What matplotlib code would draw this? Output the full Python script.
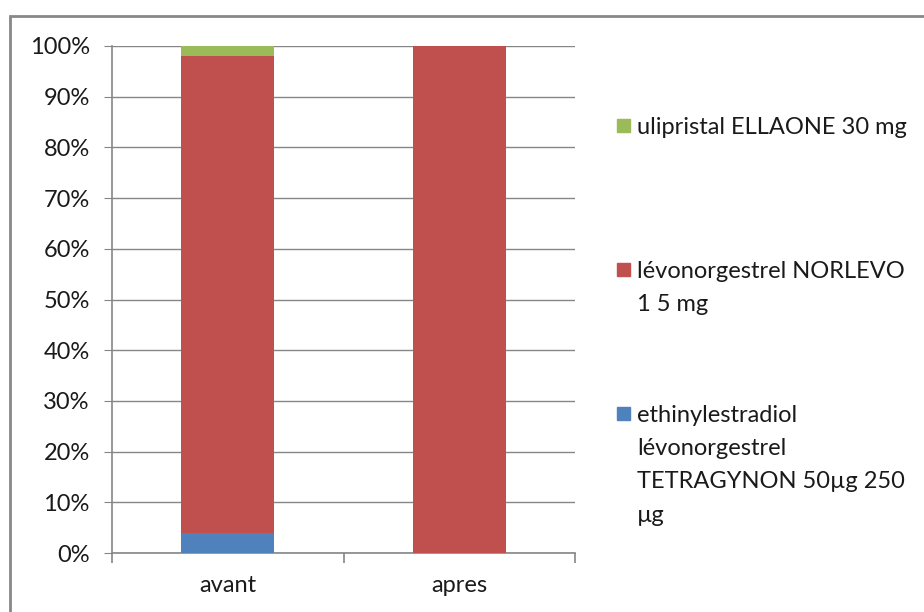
import matplotlib
matplotlib.use("Agg")
import matplotlib.pyplot as plt
from matplotlib.patches import Rectangle
from matplotlib.ticker import PercentFormatter, FixedLocator

categories = ["avant", "apres"]
ethinyl = [4, 0]
norlevo = [94, 100]
ellaone = [2, 0]

labels = [
    "ethinylestradiol\nlévonorgestrel\nTETRAGYNON 50µg 250\nµg",
    "lévonorgestrel NORLEVO\n1 5 mg",
    "ulipristal ELLAONE 30 mg",
]
colors = ["#4F81BD", "#C0504D", "#9BBB59"]

plt.rcParams["font.family"] = ["Lato", "DejaVu Sans"]

fig = plt.figure(figsize=(9.24, 6.12), dpi=100)
ax = fig.add_axes([112 / 924, 1 - 553 / 612, 463 / 924, 507 / 612])

x = range(len(categories))
bottom = [0, 0]
for vals, col in zip([ethinyl, norlevo, ellaone], colors):
    ax.bar(x, vals, width=0.4, bottom=bottom, color=col, zorder=3)
    bottom = [b + v for b, v in zip(bottom, vals)]

ax.set_xlim(-0.5, 1.5)
ax.set_ylim(0, 100)
ax.set_yticks(range(0, 101, 10))
ax.yaxis.set_major_formatter(PercentFormatter(decimals=0))
ax.set_xticks(list(x))
ax.set_xticklabels(categories)
ax.xaxis.set_minor_locator(FixedLocator([-0.5, 0.5, 1.5]))

ax.grid(axis="y", color="#868686", linewidth=1, zorder=0)
for s in ["top", "right"]:
    ax.spines[s].set_visible(False)
for s in ["left", "bottom"]:
    ax.spines[s].set_color("#868686")
    ax.spines[s].set_linewidth(1.2)

ax.tick_params(axis="y", which="major", length=6, color="#868686", labelsize=17, pad=10, labelcolor="#1a1a1a")
ax.tick_params(axis="x", which="major", length=0, labelsize=17, pad=16, labelcolor="#1a1a1a")
ax.tick_params(axis="x", which="minor", length=7, color="#868686", width=1.2)

# legend drawn by hand, handles aligned with the first line as in the original
for lab, col, ly in zip(labels, colors, [415, 271, 127]):
    fig.add_artist(Rectangle((617 / 924, 1 - (ly + 5) / 612), 13 / 924, 13 / 612,
                             transform=fig.transFigure, color=col))
    fig.text(637 / 924, 1 - (ly - 10) / 612, lab, fontsize=17, va="top", ha="left",
             color="#1a1a1a", linespacing=1.72)

# outer chart border
fig.add_artist(Rectangle((10 / 924, -0.1), 1.2, 1 - 16 / 612 + 0.1, transform=fig.transFigure,
                         fill=False, edgecolor="#888888", linewidth=2))

fig.savefig("out.png", dpi=100)
